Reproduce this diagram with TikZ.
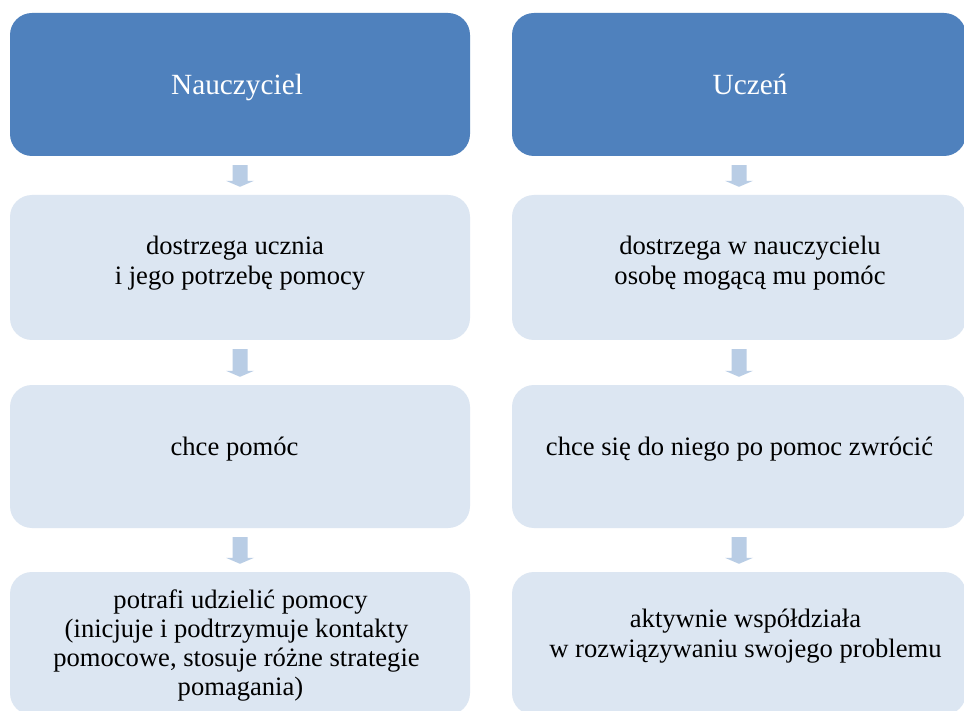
\documentclass[tikz,border=0pt]{standalone}
\usepackage{fontspec}
\setmainfont{Liberation Serif}
\usetikzlibrary{calc}
\definecolor{hdrblue}{HTML}{4F81BD}
\definecolor{boxblue}{HTML}{DCE6F2}
\definecolor{arrblue}{HTML}{B9CDE5}
\newcommand\blockarrow[2]{%
  \fill[arrowfill] let \p1=(#1.south), \p2=(#2.north) in
    (\x1-7.5pt,\y1-9pt) -- (\x1+7.5pt,\y1-9pt) -- (\x1+7.5pt,\y2+14pt) --
    (\x1+14pt,\y2+14pt) -- (\x1,\y2+8pt) -- (\x1-14pt,\y2+14pt) --
    (\x1-7.5pt,\y2+14pt) -- cycle;}
\begin{document}
\begin{tikzpicture}[x=1pt,y=-1pt,
  basebox/.style={rectangle, rounded corners=22pt, draw=none, inner sep=0pt, minimum height=143pt},
  hdrbox/.style={basebox, fill=hdrblue},
  stepbox/.style={basebox, fill=boxblue},
  leftcol/.style={minimum width=460pt},
  rightcol/.style={minimum width=454pt},
  hdrtext/.style={text=white, font=\fontsize{29.3}{34}\selectfont, anchor=base, inner sep=0pt},
  bodytext/.style={text=black, font=\fontsize{26.6}{30}\selectfont, align=center, anchor=base, inner sep=0pt},
  arrowfill/.style={fill=arrblue}]
\clip (0,0) rectangle (964,711);
\fill[white] (0,0) rectangle (964,711);
% boxes
\node[hdrbox, leftcol] (h1) at (240,84.5) {};
\node[hdrbox, rightcol] (h2) at (739,84.5) {};
\node[stepbox, leftcol, minimum height=145pt] (b1) at (240,267.5) {};
\node[stepbox, rightcol, minimum height=145pt] (b2) at (739,267.5) {};
\node[stepbox, leftcol] (c1) at (240,456.5) {};
\node[stepbox, rightcol] (c2) at (739,456.5) {};
\node[stepbox, leftcol] (d1) at (240,643.5) {};
\node[stepbox, rightcol] (d2) at (739,643.5) {};
% arrows
\blockarrow{h1}{b1}
\blockarrow{b1}{c1}
\blockarrow{c1}{d1}
\blockarrow{h2}{b2}
\blockarrow{b2}{c2}
\blockarrow{c2}{d2}
% texts (multi-line nodes: base = last line)
\node[hdrtext] (t1) at (237,95) {Nauczyciel};
\node[hdrtext] (t2) at (750,95) {Uczeń};
\node[bodytext] (tb1) at (240,285) {dostrzega ucznia\hspace*{10pt}\\i jego potrzebę pomocy};
\node[bodytext] (tb2) at (750,285) {dostrzega w nauczycielu\\osobę mogącą mu pomóc};
\node[bodytext] (tc1) at (234.5,455) {chce pomóc};
\node[bodytext] (tc2) at (739.5,455) {chce się do niego po pomoc zwrócić};
\node[bodytext, font=\fontsize{26.6}{28.8}\selectfont] (td1) at (236.5,695) {\hspace*{8pt}potrafi udzielić pomocy\\(inicjuje i podtrzymuje kontakty\hspace*{8pt}\\pomocowe, stosuje różne strategie\\\hspace*{8pt}pomagania)};
\node[bodytext] (td2) at (745.5,657) {aktywnie współdziała\\w rozwiązywaniu swojego problemu};
\end{tikzpicture}
\end{document}
